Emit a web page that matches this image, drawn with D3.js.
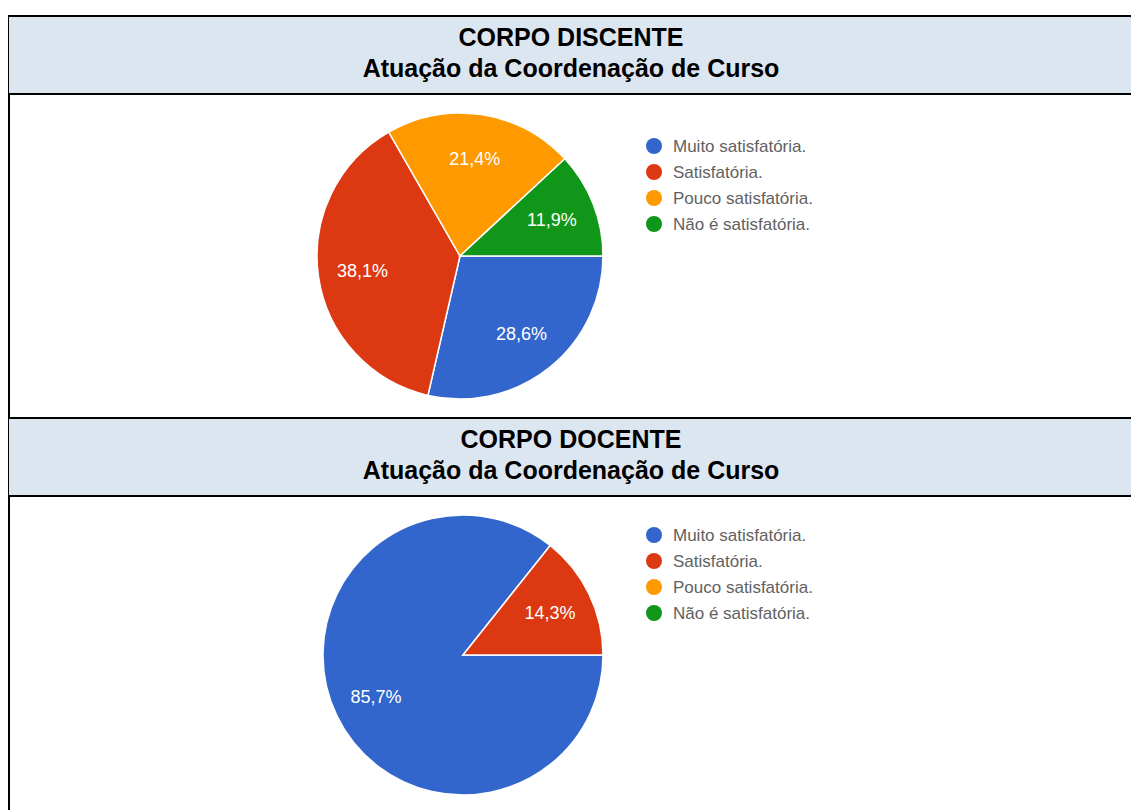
<!doctype html>
<html lang="pt">
<head>
<meta charset="utf-8">
<title>Atuação da Coordenação de Curso</title>
<style>
  body { margin: 0; background: #fff; }
  .hdr { fill: #dce6f1; }
  .rule { stroke: #000; stroke-width: 2; }
  .title { font-family: "Liberation Sans", Arial, sans-serif; font-weight: bold; font-size: 25px; fill: #000; }
  .slice { stroke: #fff; stroke-width: 1.5; }
  .pct { font-family: "Liberation Sans", Arial, sans-serif; font-size: 18px; fill: #fff; }
  .leg { font-family: "Liberation Sans", Arial, sans-serif; font-size: 17px; fill: #616161; }
</style>
</head>
<body>
<div id="chart"></div>
<script src="https://cdn.jsdelivr.net/npm/d3@7"></script>
<script>
// data
var categories = ["Muito satisfatória.", "Satisfatória.", "Pouco satisfatória.", "Não é satisfatória."];
var discenteValues = [28.6, 38.1, 21.4, 11.9];
var docenteValues = [85.7, 14.3, 0, 0];
var panelTitles = ["CORPO DISCENTE", "CORPO DOCENTE"];
var panelSubtitle = "Atuação da Coordenação de Curso";
var sliceColors = ["#3366cc", "#dc3912", "#ff9900", "#109618"];

var W = 1131, H = 810;
var ptBR = d3.formatLocale({decimal: ",", thousands: ".", grouping: [3], currency: ["R$", ""]});
var fmt = ptBR.format(".1f");

var svg = d3.select("#chart").append("svg")
    .attr("width", W)
    .attr("height", H);

var color = d3.scaleOrdinal().domain(categories).range(sliceColors);

// google style pie: starts at 3 o'clock, goes clockwise
var pie = d3.pie()
    .sort(null)
    .value(function(d) { return d.v; })
    .startAngle(Math.PI / 2)
    .endAngle(Math.PI / 2 + 2 * Math.PI);

var panels = [
    {title: panelTitles[0], values: discenteValues, top: 16, cx: 460, cy: 256, r: 143, legY: 146},
    {title: panelTitles[1], values: docenteValues, top: 418, cx: 463, cy: 655, r: 140, legY: 535}
];

// left border of the table
svg.append("line").attr("class", "rule")
    .attr("x1", 9).attr("x2", 9).attr("y1", 15).attr("y2", H);

panels.forEach(function(p) {
    var hTop = p.top, hBot = p.top + 78;

    svg.append("rect").attr("class", "hdr")
        .attr("x", 9).attr("y", hTop).attr("width", W - 9).attr("height", hBot - hTop);
    svg.append("line").attr("class", "rule")
        .attr("x1", 8).attr("x2", W).attr("y1", hTop).attr("y2", hTop);
    svg.append("line").attr("class", "rule")
        .attr("x1", 8).attr("x2", W).attr("y1", hBot).attr("y2", hBot);

    svg.append("text").attr("class", "title")
        .attr("x", 571).attr("y", hTop + 30)
        .attr("text-anchor", "middle")
        .text(p.title);
    svg.append("text").attr("class", "title")
        .attr("x", 571).attr("y", hTop + 61)
        .attr("text-anchor", "middle")
        .text(panelSubtitle);

    var data = categories.map(function(c, i) { return {k: c, v: p.values[i]}; });
    var arcs = pie(data).filter(function(d) { return d.data.v > 0; });

    var arc = d3.arc().innerRadius(0).outerRadius(p.r);
    var labelArc = d3.arc().innerRadius(p.r * 0.69).outerRadius(p.r * 0.69);

    var g = svg.append("g")
        .attr("transform", "translate(" + p.cx + "," + p.cy + ")");

    g.selectAll("path")
        .data(arcs)
        .enter().append("path")
        .attr("class", "slice")
        .attr("d", arc)
        .attr("fill", function(d) { return color(d.data.k); });

    g.selectAll("text")
        .data(arcs)
        .enter().append("text")
        .attr("class", "pct")
        .attr("transform", function(d) { return "translate(" + labelArc.centroid(d) + ")"; })
        .attr("text-anchor", "middle")
        .attr("dy", "0.35em")
        .text(function(d) { return fmt(d.data.v) + "%"; });

    // legend
    var leg = svg.append("g")
        .attr("transform", "translate(654," + p.legY + ")");
    var item = leg.selectAll("g")
        .data(categories)
        .enter().append("g")
        .attr("transform", function(d, i) { return "translate(0," + (i * 26) + ")"; });
    item.append("circle")
        .attr("r", 8)
        .attr("fill", function(d) { return color(d); });
    item.append("text")
        .attr("class", "leg")
        .attr("x", 19)
        .attr("dy", "0.35em")
        .text(function(d) { return d; });
});
</script>
</body>
</html>
